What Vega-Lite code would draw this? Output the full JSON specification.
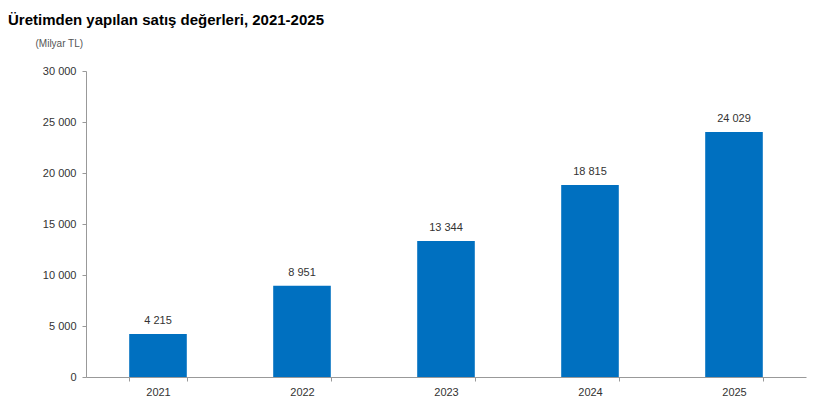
{
  "$schema": "https://vega.github.io/schema/vega-lite/v6.json",
  "width": 720,
  "height": 306,
  "autosize": "none",
  "padding": {"left": 86, "top": 71, "right": 14, "bottom": 37},
  "background": "white",
  "config": {
    "view": {"stroke": null},
    "font": "Liberation Sans",
    "locale": {"number": {"decimal": ",", "thousands": " ", "grouping": [3], "currency": ["", ""]}}
  },
  "title": {
    "text": "Üretimden yapılan satış değerleri, 2021-2025",
    "anchor": "start",
    "frame": "group",
    "dx": -78,
    "offset": 10,
    "fontSize": 15,
    "fontWeight": "bold",
    "font": "Liberation Sans",
    "color": "#000000"
  },
  "data": {
    "values": [
      {"year": "2021", "value": 4215},
      {"year": "2022", "value": 8951},
      {"year": "2023", "value": 13344},
      {"year": "2024", "value": 18815},
      {"year": "2025", "value": 24029}
    ]
  },
  "encoding": {
    "x": {
      "field": "year",
      "type": "nominal",
      "scale": {"paddingInner": 0.6, "paddingOuter": 0.3},
      "axis": {
        "title": null,
        "labelAngle": 0,
        "labelFontSize": 11,
        "labelColor": "#333333",
        "labelPadding": 5,
        "domainColor": "#999999",
        "tickColor": "#999999",
        "tickBand": "extent",
        "tickSize": 4
      }
    },
    "y": {
      "field": "value",
      "type": "quantitative",
      "scale": {"domain": [0, 30000]},
      "axis": {
        "title": "(Milyar TL)",
        "titleAngle": 0,
        "titleAlign": "left",
        "titleBaseline": "alphabetic",
        "titleX": -51,
        "titleY": -25,
        "titleFontSize": 10,
        "titleFontWeight": "normal",
        "titleColor": "#555555",
        "values": [0, 5000, 10000, 15000, 20000, 25000, 30000],
        "format": ",d",
        "grid": false,
        "labelFontSize": 11,
        "labelColor": "#333333",
        "labelPadding": 6,
        "domainColor": "#999999",
        "tickColor": "#999999",
        "tickSize": 4
      }
    }
  },
  "layer": [
    {"mark": {"type": "bar", "color": "#0070C0"}},
    {
      "mark": {"type": "text", "dy": -8, "baseline": "bottom", "fontSize": 11, "color": "#333333"},
      "encoding": {"text": {"field": "value", "type": "quantitative", "format": ",d"}}
    }
  ]
}
